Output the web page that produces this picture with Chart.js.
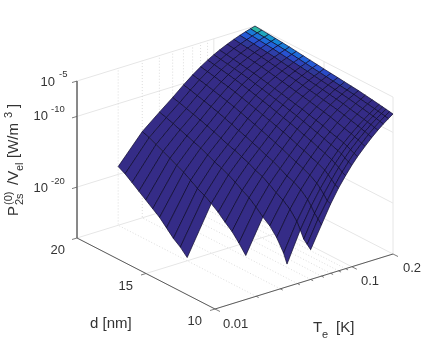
<!DOCTYPE html>
<html>
<head>
<meta charset="utf-8">
<style>
  html, body { margin: 0; padding: 0; background: #fff; }
  canvas { display: block; }
</style>
<script src="https://cdn.jsdelivr.net/npm/chart.js@4/dist/chart.umd.js"></script>
</head>
<body>
<canvas id="surface" width="436" height="348"></canvas>
<script>
// T_e [K], one column per value
const temps = [0.02, 0.03, 0.04, 0.05, 0.06, 0.07, 0.08, 0.09, 0.1, 0.11, 0.125, 0.14, 0.155, 0.17, 0.185, 0.2];
// d [nm], one row per value
const widths = [20, 19.5, 19, 18.5, 18, 17.5, 17, 16.5, 16, 15.5, 15, 14.5, 14, 13.5, 13, 12.5, 12, 11.5, 11, 10.75, 10.5, 10.25, 10];
// log10(P/V). null = no surface there
const logP = [
  [-18.9, -15, -13, -11.51, -10.2, -9.18, -8.38, -7.75, -7.25, -6.84, -6.35, -5.96, -5.65, -5.4, -5.18, -5],
  [-19.43, -15.35, -13.27, -11.76, -10.44, -9.4, -8.57, -7.92, -7.41, -6.98, -6.48, -6.08, -5.76, -5.49, -5.27, -5.08],
  [-20.16, -15.83, -13.63, -12.07, -10.71, -9.64, -8.78, -8.11, -7.58, -7.14, -6.62, -6.2, -5.87, -5.59, -5.37, -5.17],
  [-20.89, -16.31, -13.99, -12.38, -10.99, -9.89, -9, -8.3, -7.75, -7.3, -6.76, -6.33, -5.99, -5.7, -5.47, -5.26],
  [-21.62, -16.79, -14.35, -12.7, -11.27, -10.14, -9.22, -8.5, -7.93, -7.46, -6.9, -6.45, -6.1, -5.8, -5.56, -5.35],
  [-22.35, -17.27, -14.72, -13.02, -11.58, -10.43, -9.47, -8.72, -8.13, -7.64, -7.06, -6.6, -6.23, -5.92, -5.67, -5.45],
  [-23.08, -17.75, -15.07, -13.35, -11.91, -10.69, -9.75, -8.97, -8.36, -7.85, -7.24, -6.76, -6.38, -6.06, -5.8, -5.57],
  [-24.06, -18.39, -15.55, -13.75, -12.27, -11.02, -10.04, -9.23, -8.59, -8.06, -7.43, -6.93, -6.54, -6.2, -5.93, -5.69],
  [-25.04, -19.04, -16.03, -14.15, -12.64, -11.36, -10.35, -9.51, -8.84, -8.28, -7.63, -7.1, -6.7, -6.34, -6.06, -5.81],
  [-25.77, -19.52, -16.39, -14.47, -12.97, -11.68, -10.66, -9.78, -9.08, -8.51, -7.83, -7.28, -6.85, -6.48, -6.19, -5.93],
  [-26.75, -20.16, -16.87, -14.86, -13.35, -12.04, -10.94, -10.07, -9.34, -8.74, -8.03, -7.46, -7.01, -6.63, -6.32, -6.05],
  [null, -20.9, -17.4, -15.27, -13.72, -12.4, -11.27, -10.38, -9.61, -8.98, -8.24, -7.64, -7.17, -6.77, -6.45, -6.16],
  [null, -21.8, -18.05, -15.78, -14.14, -12.77, -11.6, -10.67, -9.87, -9.21, -8.44, -7.81, -7.32, -6.9, -6.57, -6.27],
  [null, -22.6, -18.6, -16.18, -14.51, -13.15, -11.96, -10.97, -10.18, -9.49, -8.67, -8.01, -7.49, -7.05, -6.7, -6.38],
  [null, -23.73, -19.4, -16.78, -15.01, -13.57, -12.35, -11.32, -10.49, -9.76, -8.9, -8.2, -7.66, -7.19, -6.82, -6.49],
  [null, -25, -20.3, -17.45, -15.55, -14, -12.72, -11.64, -10.79, -10.02, -9.12, -8.39, -7.83, -7.34, -6.95, -6.6],
  [null, null, -21.05, -18, -15.93, -14.39, -13.13, -12.04, -11.12, -10.39, -9.43, -8.65, -8.05, -7.53, -7.12, -6.75],
  [null, null, -22.2, -18.8, -16.5, -14.84, -13.5, -12.39, -11.46, -10.65, -9.73, -8.91, -8.28, -7.73, -7.29, -6.9],
  [null, null, -23.9, -20, -17.38, -15.47, -13.98, -12.78, -11.79, -10.95, -9.98, -9.17, -8.5, -7.92, -7.46, -7.05],
  [null, null, -25.2, -20.95, -18.08, -15.98, -14.37, -13.08, -12.03, -11.15, -10.17, -9.32, -8.63, -8.04, -7.56, -7.14],
  [null, null, null, -22, -18.84, -16.53, -14.8, -13.4, -12.3, -11.4, -10.35, -9.47, -8.75, -8.14, -7.65, -7.22],
  [null, null, null, -22.5, -19.4, -17.2, -15.3, -13.81, -12.64, -11.68, -10.58, -9.64, -8.9, -8.27, -7.75, -7.31],
  [null, null, null, -23, -19.95, -17.4, -15.5, -14.05, -12.85, -11.88, -10.75, -9.8, -9.03, -8.39, -7.86, -7.4]
];

const tTickMajor = [0.01, 0.1];
const tTickMinor = [0.02, 0.03, 0.04, 0.05, 0.06, 0.07, 0.08, 0.09, 0.2];
const dTicks = [10, 15, 20];
const zTicks = [-5, -10, -20];

const tLimits = [0.01, 0.2];
const dLimits = [10, 20];
const zLimits = [-27.2, -5];

// parula steps for the few cells near the peak, everything else is surfaceColor
const peakColors = ["#2cb5a5", "#1ea6bc", "#1492cf", "#1585d6", "#1a7ad6", "#1c72d8", "#1f6ad9", "#2262d9", "#255ad6", "#2852d0", "#2a4ac6", "#2c44b8", "#2e3fa8", "#303898", "#32318c"];
const surfaceColor = "#352c87";
const edgeColor = "rgba(10,8,40,0.85)";
const gridColor = "#e6e6e6";
const axisColor = "#5c5c5c";
const textColor = "#333333";

// orthographic view, screen offsets of the box edges
const origin = { x: 215, y: 309 };
const tAxis = { x: 178, y: -55 };
const dAxis = { x: -138, y: -71 };
const zPerDecade = 7.07;

function project(t, d, z) {
    const u = Math.log(t / tLimits[0]) / Math.log(tLimits[1] / tLimits[0]);
    const v = (d - dLimits[0]) / (dLimits[1] - dLimits[0]);
    return {
        x: origin.x + u * tAxis.x + v * dAxis.x,
        y: origin.y + u * tAxis.y + v * dAxis.y - (z - zLimits[0]) * zPerDecade,
    };
}

function lineSet(points, color, width, dash) {
    return {
        data: points,
        showLine: true,
        fill: false,
        borderColor: color,
        borderWidth: width,
        borderDash: dash || [],
        pointRadius: 0,
        tension: 0,
    };
}

const back = [];  // grid and box, drawn first
const dots = [1, 2];

// grid lines on the two back walls and the floor
zTicks.forEach((z) => {
    back.push(lineSet([project(tLimits[0], dLimits[1], z), project(tLimits[1], dLimits[1], z), project(tLimits[1], dLimits[0], z)], gridColor, 1));
});
tTickMajor.concat(tLimits[1]).forEach((t) => {
    back.push(lineSet([project(t, dLimits[0], zLimits[0]), project(t, dLimits[1], zLimits[0]), project(t, dLimits[1], zLimits[1])], gridColor, 1));
});
tTickMinor.forEach((t) => {
    if (t === tLimits[1]) return;
    back.push(lineSet([project(t, dLimits[0], zLimits[0]), project(t, dLimits[1], zLimits[0]), project(t, dLimits[1], zLimits[1])], "#d4d4d4", 0.8, dots));
});
dTicks.forEach((d) => {
    back.push(lineSet([project(tLimits[0], d, zLimits[0]), project(tLimits[1], d, zLimits[0]), project(tLimits[1], d, zLimits[1])], gridColor, 1));
});

// surface cells, far ones first so the near ones paint over them
const cells = [];
for (let j = 0; j < widths.length - 1; j++) {
    for (let i = temps.length - 2; i >= 0; i--) {
        const corners = [[i, j], [i + 1, j], [i + 1, j + 1], [i, j + 1]];
        if (corners.some((c) => logP[c[1]][c[0]] === null)) continue;
        const pts = corners.map((c) => project(temps[c[0]], widths[c[1]], logP[c[1]][c[0]]));
        pts.push(pts[0]);
        const rowFromTop = temps.length - 2 - i;
        const step = rowFromTop * 4 + j;
        const set = lineSet(pts, edgeColor, 0.8);
        set.fill = "shape";
        set.backgroundColor = step < peakColors.length ? peakColors[step] : surfaceColor;
        cells.push(set);
    }
}

// axis lines and tick marks go on top of the floor grid
const front = [];
front.push(lineSet([project(tLimits[0], dLimits[1], zLimits[1]), project(tLimits[0], dLimits[1], zLimits[0])], "#7a7a7a", 1));
front.push(lineSet([project(tLimits[0], dLimits[1], zLimits[0]), project(tLimits[0], dLimits[0], zLimits[0]), project(tLimits[1], dLimits[0], zLimits[0])], axisColor, 1));

function tTick(t, len) {
    const p = project(t, dLimits[0], zLimits[0]);
    front.push(lineSet([p, { x: p.x + len, y: p.y + len * 0.5 }], axisColor, 0.8));
}
tTickMajor.forEach((t) => tTick(t, 5));
tTickMinor.forEach((t) => tTick(t, t === tLimits[1] ? 5 : 2.5));
dTicks.forEach((d) => {
    const p = project(tLimits[0], d, zLimits[0]);
    front.push(lineSet([p, { x: p.x - 5, y: p.y + 1.5 }], axisColor, 0.8));
});
zTicks.forEach((z) => {
    const p = project(tLimits[0], dLimits[1], z);
    front.push(lineSet([p, { x: p.x - 5, y: p.y + 1.5 }], axisColor, 0.8));
});

// chart.js paints dataset 0 last
const allSets = back.concat(cells).concat(front).reverse();

function put(ctx, str, x, y, size, align) {
    ctx.font = size + 'px "Liberation Sans"';
    ctx.textAlign = align || "left";
    ctx.fillText(str, x, y);
}

const labelPlugin = {
    id: "labels",
    afterDraw(chart) {
        const ctx = chart.ctx;
        ctx.save();
        ctx.fillStyle = textColor;
        ctx.textBaseline = "alphabetic";

        // z ticks
        put(ctx, "10", 55, 86, 13, "right");
        put(ctx, "-5", 59, 77, 9.5);
        put(ctx, "10", 48, 120, 13, "right");
        put(ctx, "-10", 51, 112, 9.5);
        put(ctx, "10", 48, 192, 13, "right");
        put(ctx, "-20", 51, 184, 9.5);

        // d ticks
        put(ctx, "20", 65, 254, 13, "right");
        put(ctx, "15", 133, 290, 13, "right");
        put(ctx, "10", 202, 325, 13, "right");

        // T ticks
        put(ctx, "0.01", 223, 328, 13);
        put(ctx, "0.1", 361, 285, 13);
        put(ctx, "0.2", 403, 272, 13);

        // axis labels
        put(ctx, "d [nm]", 90, 328, 15);
        put(ctx, "T", 313, 332, 15);
        put(ctx, "e", 322, 338, 11);
        put(ctx, "[K]", 336, 332, 15);

        ctx.translate(18, 216);
        ctx.rotate(-Math.PI / 2);
        put(ctx, "P", 0, 0, 15);
        put(ctx, "(0)", 11, -6, 11);
        put(ctx, "2s", 11, 5, 11);
        put(ctx, "/V", 31, 0, 15);
        put(ctx, "el", 45, 5, 11);
        put(ctx, "[W/m", 58, 0, 15);
        put(ctx, "3", 98, -6, 11);
        put(ctx, "]", 108, 0, 15);
        ctx.restore();
    },
};

new Chart(document.getElementById("surface"), {
    type: "scatter",
    data: { datasets: allSets },
    options: {
        responsive: false,
        animation: false,
        events: [],
        layout: { padding: 0 },
        scales: {
            x: { type: "linear", display: false, min: 0, max: 436 },
            y: { type: "linear", display: false, min: 0, max: 348, reverse: true },
        },
        plugins: {
            legend: { display: false },
            tooltip: { enabled: false },
            filler: { propagate: false },
        },
    },
    plugins: [labelPlugin],
});
</script>
</body>
</html>
